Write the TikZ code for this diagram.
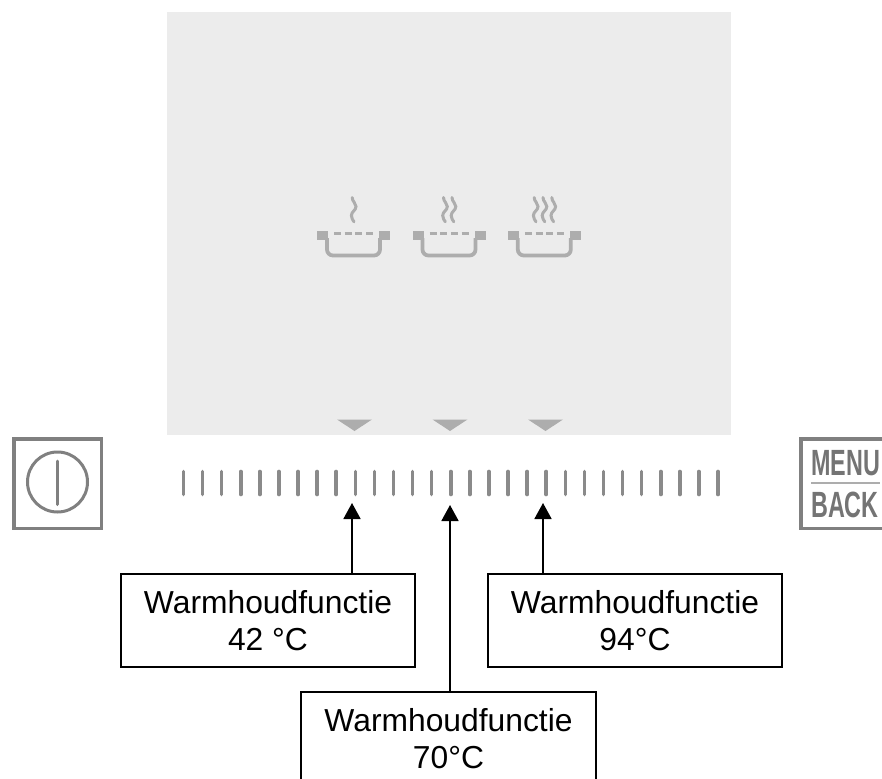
\documentclass[tikz,border=0pt]{standalone}
\usepackage{fontspec}
\setmainfont{Liberation Sans}
\usetikzlibrary{arrows.meta,calc}
\definecolor{panelgray}{HTML}{ECECEC}
\definecolor{potgray}{HTML}{ADADAD}
\definecolor{tickgray}{HTML}{8A8A8A}
\definecolor{btngray}{HTML}{808080}
\definecolor{btntextgray}{HTML}{747474}
\tikzset{
  x=1pt,y=-1pt,
  infobox/.style={draw=black,line width=1.6pt,fill=white,minimum width=294.5pt,minimum height=93.5pt,
    align=center,inner sep=0pt,font=\fontsize{31.8}{37}\selectfont,text depth=0pt},
  callout/.style={draw=black,line width=1.8pt,-{Triangle[length=16pt,width=17pt]}},
  tickmark/.style={draw=tickgray,line width=3.6pt,line cap=round},
  btnframe/.style={draw=btngray,line width=3.8pt},
  btntext/.style={text=btntextgray,inner sep=0pt,anchor=base west,font=\fontsize{36.5}{36.5}\bfseries\selectfont},
  steam/.style={draw=potgray,line width=3pt,line cap=round},
  pot/.pic={
    \fill[potgray] (-36.5,-4) rectangle (-25.5,4.6);
    \fill[potgray] (25.5,-4) rectangle (36.5,4.6);
    \draw[potgray,line width=3.8pt,rounded corners=6pt] (-26.5,3) -- (-26.5,20.5) -- (26.5,20.5) -- (26.5,3);
    \draw[potgray,line width=3pt,dash pattern=on 7pt off 3.7pt] (-19.5,-2) -- (19.5,-2);
  },
  wave/.pic={
    \draw[steam] (-0.8,-12.5) .. controls (-0.8,-8) and (3,-7.5) .. (3,-3.5)
      .. controls (3,0.5) and (-1.6,1.5) .. (-1.6,5.5) .. controls (-1.6,8.5) and (0,10) .. (1,11.8);
  }
}
\begin{document}
\begin{tikzpicture}
\useasboundingbox (0,0) rectangle (882,778);
% display panel
\fill[panelgray] (167,12) rectangle (731,435);
% pots
\path (353.5,235) pic {pot};
\path (449,235) pic {pot};
\path (544.3,235) pic {pot};
% steam
\path (353,210) pic {wave};
\path (444.3,210) pic {wave};
\path (452.8,210) pic {wave};
\path (535,210) pic {wave};
\path (543.8,210) pic {wave};
\path (552.6,210) pic {wave};
% markers
\foreach \mx in {354.5,450,545.5}
  \fill[potgray] (\mx-17.5,419.5) -- (\mx+17.5,419.5) -- (\mx,431) -- cycle;
% slider ticks
\foreach \i in {0,...,28}
  \draw[tickmark] ({183.5+19.09*\i},471.5) -- ({183.5+19.09*\i},494.5);
% power button
\draw[btnframe] (13.8,438.8) rectangle (101.5,528.5);
\draw[btngray,line width=3pt] (57.5,482) circle[radius=30];
\draw[btngray,line width=3pt,line cap=round] (57.5,461) -- (57.5,504.5);
% menu button
\draw[btnframe] (801.3,438.8) rectangle (900,528.5);
\node[btntext] (menu) at (811,475) {\scalebox{.64}[1]{MENU}};
\draw[draw=potgray,line width=2pt] (811,482.5) -- (880,482.5);
\node[btntext] (back) at (811,517.5) {\scalebox{.64}[1]{BACK}};
% boxes
\node[infobox] (b1) at (268,620.5) {Warmhoudfunctie\\42 °C};
\node[infobox] (b3) at (635,620.5) {Warmhoudfunctie\\94°C};
\node[infobox] (b2) at (448.5,738.5) {Warmhoudfunctie\\70°C};
% arrows
\coordinate (t1) at (352,503);
\coordinate (t2) at (450,505);
\coordinate (t3) at (543,503);
\draw[callout] (b1.north -| t1) -- (t1);
\draw[callout] (b2.north -| t2) -- (t2);
\draw[callout] (b3.north -| t3) -- (t3);
\end{tikzpicture}
\end{document}
